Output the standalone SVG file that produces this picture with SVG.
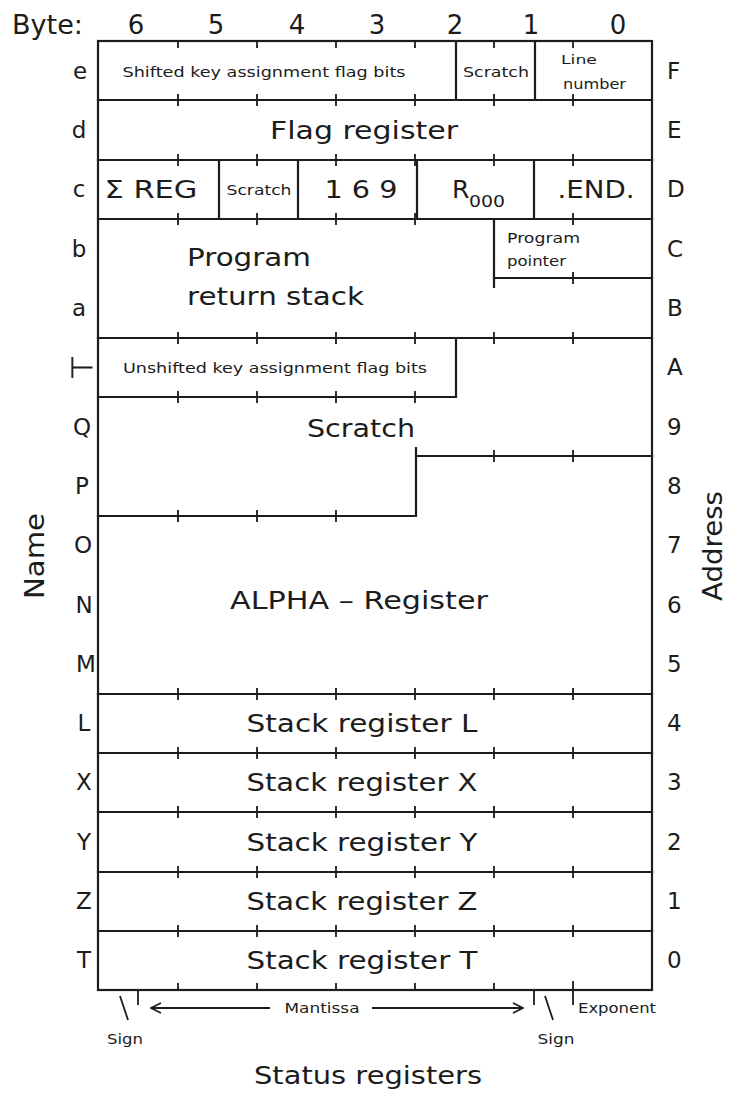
<svg xmlns="http://www.w3.org/2000/svg" width="736" height="1093" viewBox="0 0 736 1093">
<defs>
<style>
.ln{stroke:#1c1c1c;stroke-width:2.2;fill:none;stroke-linecap:square}
.tk{stroke:#1c1c1c;stroke-width:1.8;fill:none}
.t{font-family:"DejaVu Sans",sans-serif;fill:#1c1c1c}
.big{font-size:25px}
.hd{font-size:26px}
.sm{font-size:14.5px}
.lab{font-size:23px;text-anchor:middle}
.adr{font-size:23px}
.mid{text-anchor:middle}
</style>
<marker id="ah" viewBox="0 0 12 12" refX="11" refY="6" markerWidth="12" markerHeight="12" markerUnits="userSpaceOnUse" orient="auto-start-reverse">
<path d="M1,1 L11,6 L1,11" fill="none" stroke="#1c1c1c" stroke-width="1.6"/>
</marker>
</defs>
<rect width="736" height="1093" fill="#ffffff"/>

<g id="header">
<text class="t hd" x="12" y="34" textLength="71" lengthAdjust="spacingAndGlyphs">Byte:</text>
<text class="t hd mid" x="136" y="34">6</text>
<text class="t hd mid" x="216" y="34">5</text>
<text class="t hd mid" x="297" y="34">4</text>
<text class="t hd mid" x="377" y="34">3</text>
<text class="t hd mid" x="455" y="34">2</text>
<text class="t hd mid" x="531" y="34">1</text>
<text class="t hd mid" x="618" y="34">0</text>
</g>

<g id="axis-labels">
<text class="t hd mid" transform="translate(44,556) rotate(-90)" textLength="86" lengthAdjust="spacingAndGlyphs">Name</text>
<text class="t hd mid" transform="translate(722,546) rotate(-90)" textLength="110" lengthAdjust="spacingAndGlyphs">Address</text>
</g>

<g id="grid">
<rect class="ln" x="98" y="41" width="554" height="949"/>
<path class="ln" d="M98,100H652M98,160H652M98,219H652M98,338H652M98,694H652M98,753H652M98,812H652M98,872H652M98,931H652
M494,278H652M98,397H456M416,456H652M98,516H416
M456,41V100M535,41V100M219,160V219M298,160V219M417,160V219M534,160V219M494,219V287M456,338V397M416,448V516"/>
<path class="tk" d="M178,41v7M257,41v7M336,41v7M415,41v7M494,41v7M573,41v7
M178,94v12M257,94v12M336,94v12M415,94v12M494,94v12M573,94v12
M178,154v12M257,154v12M336,154v12M415,154v12M494,154v12M573,154v12
M178,213v12M257,213v12M336,213v12M415,213v12M573,213v12
M573,272v12
M178,332v12M257,332v12M336,332v12M415,332v12M494,332v12M573,332v12
M178,391v12M257,391v12M336,391v12M415,391v12
M494,450v12M573,450v12
M178,510v12M257,510v12M336,510v12
M178,688v12M257,688v12M336,688v12M415,688v12M494,688v12M573,688v12
M178,747v12M257,747v12M336,747v12M415,747v12M494,747v12M573,747v12
M178,806v12M257,806v12M336,806v12M415,806v12M494,806v12M573,806v12
M178,866v12M257,866v12M336,866v12M415,866v12M494,866v12M573,866v12
M178,925v12M257,925v12M336,925v12M415,925v12M494,925v12M573,925v12
M178,983v7M257,983v7M336,983v7M415,983v7M494,983v7M573,981v24
M138,990v15M534,990v15"/>
</g>

<g id="row-e">
<text class="t lab" x="80" y="79">e</text>
<text class="t sm mid" x="264" y="77" textLength="283" lengthAdjust="spacingAndGlyphs">Shifted key assignment flag bits</text>
<text class="t sm mid" x="496" y="77" textLength="66" lengthAdjust="spacingAndGlyphs">Scratch</text>
<text class="t sm" x="561" y="64" textLength="36" lengthAdjust="spacingAndGlyphs" style="font-size:13px">Line</text>
<text class="t sm" x="563" y="89" textLength="63" lengthAdjust="spacingAndGlyphs">number</text>
<text class="t adr" x="667" y="79">F</text>
</g>
<g id="row-d">
<text class="t lab" x="79" y="138">d</text>
<text class="t big mid" x="364" y="139" textLength="188" lengthAdjust="spacingAndGlyphs">Flag register</text>
<text class="t adr" x="667" y="138">E</text>
</g>
<g id="row-c">
<text class="t lab" x="79" y="197">c</text>
<text class="t big mid" x="151" y="198" textLength="93" lengthAdjust="spacingAndGlyphs">Σ REG</text>
<text class="t sm mid" x="259" y="195" textLength="65" lengthAdjust="spacingAndGlyphs">Scratch</text>
<text class="t big mid" x="361" y="198" textLength="73" lengthAdjust="spacingAndGlyphs">1 6 9</text>
<text class="t big" x="452" y="198">R</text>
<text class="t sm" x="469" y="207" textLength="36" lengthAdjust="spacingAndGlyphs" style="font-size:16px">000</text>
<text class="t big mid" x="596" y="198" textLength="77" lengthAdjust="spacingAndGlyphs">.END.</text>
<text class="t adr" x="667" y="197">D</text>
</g>
<g id="row-b">
<text class="t lab" x="79" y="257">b</text>
<text class="t big" x="187" y="266" textLength="124" lengthAdjust="spacingAndGlyphs">Program</text>
<text class="t sm" x="507" y="243" textLength="73" lengthAdjust="spacingAndGlyphs">Program</text>
<text class="t sm" x="507" y="266" textLength="59" lengthAdjust="spacingAndGlyphs">pointer</text>
<text class="t adr" x="667" y="257">C</text>
</g>
<g id="row-a">
<text class="t lab" x="79" y="316">a</text>
<text class="t big" x="187" y="305" textLength="177" lengthAdjust="spacingAndGlyphs">return stack</text>
<text class="t adr" x="667" y="316">B</text>
</g>
<g id="row-append">
<text class="t lab" x="82" y="378" style="font-size:30px">⊢</text>
<text class="t sm mid" x="275" y="373" textLength="304" lengthAdjust="spacingAndGlyphs">Unshifted key assignment flag bits</text>
<text class="t adr" x="667" y="375">A</text>
</g>
<g id="row-Q">
<text class="t lab" x="82" y="435">Q</text>
<text class="t big mid" x="361" y="437" textLength="108" lengthAdjust="spacingAndGlyphs">Scratch</text>
<text class="t adr" x="667" y="435">9</text>
</g>
<g id="row-P">
<text class="t lab" x="82" y="494">P</text>
<text class="t adr" x="667" y="494">8</text>
</g>
<g id="row-O">
<text class="t lab" x="83" y="553">O</text>
<text class="t adr" x="667" y="553">7</text>
</g>
<g id="row-N">
<text class="t lab" x="84" y="613">N</text>
<text class="t big mid" x="359" y="609" textLength="258" lengthAdjust="spacingAndGlyphs">ALPHA – Register</text>
<text class="t adr" x="667" y="613">6</text>
</g>
<g id="row-M">
<text class="t lab" x="86" y="672">M</text>
<text class="t adr" x="667" y="672">5</text>
</g>
<g id="row-L">
<text class="t lab" x="84" y="731">L</text>
<text class="t big mid" x="362" y="732" textLength="231" lengthAdjust="spacingAndGlyphs">Stack register L</text>
<text class="t adr" x="667" y="731">4</text>
</g>
<g id="row-X">
<text class="t lab" x="84" y="790">X</text>
<text class="t big mid" x="362" y="791" textLength="231" lengthAdjust="spacingAndGlyphs">Stack register X</text>
<text class="t adr" x="667" y="790">3</text>
</g>
<g id="row-Y">
<text class="t lab" x="84" y="850">Y</text>
<text class="t big mid" x="362" y="851" textLength="231" lengthAdjust="spacingAndGlyphs">Stack register Y</text>
<text class="t adr" x="667" y="850">2</text>
</g>
<g id="row-Z">
<text class="t lab" x="84" y="909">Z</text>
<text class="t big mid" x="362" y="910" textLength="231" lengthAdjust="spacingAndGlyphs">Stack register Z</text>
<text class="t adr" x="667" y="909">1</text>
</g>
<g id="row-T">
<text class="t lab" x="84" y="968">T</text>
<text class="t big mid" x="362" y="969" textLength="231" lengthAdjust="spacingAndGlyphs">Stack register T</text>
<text class="t adr" x="667" y="968">0</text>
</g>

<g id="connectors">
<path class="tk" d="M270,1008H151" marker-end="url(#ah)"/>
<path class="tk" d="M372,1008H523" marker-end="url(#ah)"/>
<path class="tk" d="M120,996L128,1020M545,996L553,1020"/>
</g>

<g id="footer">
<text class="t sm mid" x="322" y="1013" textLength="75" lengthAdjust="spacingAndGlyphs">Mantissa</text>
<text class="t sm" x="578" y="1013" textLength="78" lengthAdjust="spacingAndGlyphs">Exponent</text>
<text class="t sm mid" x="125" y="1044" textLength="36" lengthAdjust="spacingAndGlyphs">Sign</text>
<text class="t sm mid" x="556" y="1044" textLength="37" lengthAdjust="spacingAndGlyphs">Sign</text>
<text class="t big mid" x="368" y="1084" textLength="228" lengthAdjust="spacingAndGlyphs">Status registers</text>
</g>
</svg>
